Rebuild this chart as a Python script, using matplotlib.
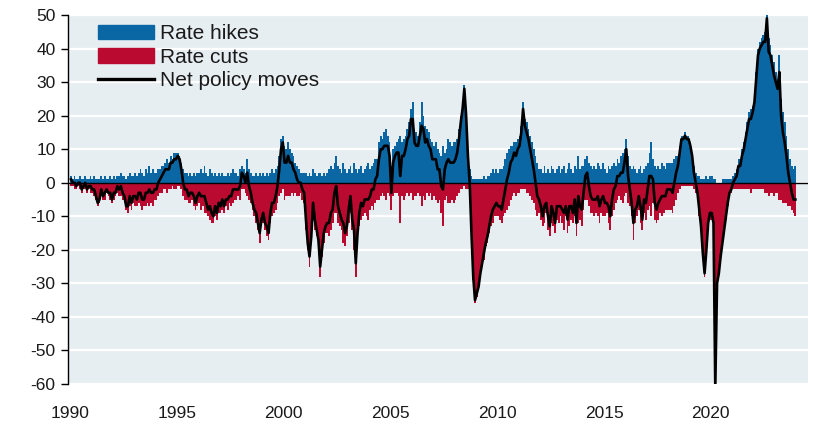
import numpy as np
import matplotlib.pyplot as plt
from matplotlib.patches import Patch
from matplotlib.lines import Line2D

# monthly counts of policy moves, one row per year starting 1990
start_year = 1990
hikes = [
    [2, 1, 2, 1, 1, 2, 1, 1, 2, 1, 1, 2],          # 1990
    [1, 2, 1, 1, 1, 2, 1, 2, 1, 1, 2, 1],
    [2, 1, 2, 2, 3, 2, 2, 1, 2, 3, 2, 2],
    [3, 2, 3, 4, 3, 2, 4, 3, 5, 3, 4, 3],
    [3, 4, 4, 5, 5, 6, 7, 6, 8, 7, 9, 9],
    [9, 8, 6, 4, 3, 3, 2, 3, 2, 3, 2, 3],          # 1995
    [3, 4, 3, 5, 3, 2, 4, 3, 2, 3, 2, 3],
    [2, 3, 2, 2, 3, 2, 3, 4, 3, 3, 2, 4],
    [5, 4, 3, 7, 4, 3, 2, 2, 3, 2, 3, 2],
    [3, 2, 3, 2, 3, 4, 3, 4, 5, 8, 13, 14],
    [11, 10, 12, 10, 9, 8, 6, 5, 4, 3, 3, 3],      # 2000
    [3, 2, 3, 2, 4, 3, 2, 3, 3, 2, 3, 2],
    [3, 4, 5, 4, 6, 8, 5, 4, 3, 6, 4, 3],
    [4, 5, 3, 6, 4, 3, 4, 5, 3, 4, 5, 6],
    [4, 5, 6, 7, 7, 12, 14, 13, 15, 16, 14, 12],
    [5, 10, 11, 12, 13, 14, 12, 13, 14, 16, 18, 22],  # 2005
    [24, 16, 15, 14, 18, 24, 20, 17, 16, 15, 13, 12],
    [11, 12, 10, 9, 8, 11, 9, 10, 13, 12, 11, 12],
    [12, 13, 16, 20, 24, 29, 22, 10, 4, 2, 1, 1],
    [1, 1, 1, 1, 2, 1, 2, 2, 3, 4, 3, 4],
    [3, 4, 4, 5, 7, 9, 10, 11, 11, 12, 12, 13],    # 2010
    [14, 17, 24, 19, 18, 16, 14, 12, 10, 8, 6, 4],
    [4, 3, 5, 3, 4, 3, 5, 4, 3, 4, 5, 3],
    [4, 5, 3, 4, 6, 4, 3, 5, 4, 8, 4, 5],
    [5, 7, 8, 6, 5, 4, 5, 4, 6, 5, 4, 6],
    [4, 3, 5, 4, 5, 6, 5, 7, 6, 8, 9, 10],         # 2015
    [13, 8, 5, 4, 5, 4, 3, 4, 5, 3, 4, 5],
    [6, 9, 12, 7, 5, 4, 5, 4, 6, 5, 4, 6],
    [6, 6, 6, 7, 8, 8, 11, 14, 14, 15, 14, 14],
    [12, 9, 5, 3, 2, 2, 1, 1, 1, 2, 1, 2],
    [2, 1, 1, 0, 0, 0, 1, 1, 1, 1, 1, 1],          # 2020
    [2, 3, 4, 7, 7, 10, 12, 15, 18, 21, 22, 23],
    [26, 33, 40, 42, 43, 44, 45, 52, 43, 41, 38, 36],
    [33, 31, 38, 25, 21, 18, 14, 10, 7, 5, 4, 5],
]
cuts = [
    [1, 1, 2, 2, 1, 2, 3, 2, 2, 3, 2, 3],          # 1990
    [3, 4, 5, 7, 6, 4, 5, 5, 3, 4, 5, 6],
    [5, 4, 3, 4, 4, 5, 6, 8, 9, 7, 8, 6],
    [7, 7, 6, 7, 8, 7, 7, 6, 7, 6, 7, 5],
    [5, 4, 3, 3, 2, 2, 3, 2, 2, 1, 2, 2],
    [1, 1, 2, 4, 5, 5, 6, 6, 5, 7, 8, 7],          # 1995
    [6, 8, 7, 9, 9, 10, 11, 12, 12, 10, 11, 9],
    [9, 8, 9, 7, 8, 6, 7, 6, 5, 5, 4, 5],
    [2, 2, 3, 4, 5, 6, 8, 10, 12, 14, 18, 13],
    [12, 14, 16, 17, 12, 10, 9, 8, 6, 4, 3, 2],
    [5, 4, 4, 4, 3, 4, 3, 4, 4, 3, 5, 6],          # 2000
    [14, 20, 25, 18, 10, 14, 16, 20, 28, 22, 18, 15],
    [15, 16, 14, 12, 9, 9, 12, 13, 14, 18, 19, 16],
    [12, 9, 14, 20, 28, 18, 13, 11, 10, 9, 10, 11],
    [8, 7, 8, 6, 5, 5, 4, 3, 4, 5, 3, 4],
    [8, 4, 3, 3, 4, 12, 4, 5, 4, 3, 4, 3],         # 2005
    [5, 4, 4, 3, 4, 7, 4, 5, 3, 4, 3, 5],
    [4, 5, 6, 5, 9, 13, 5, 4, 6, 6, 5, 6],
    [5, 4, 3, 2, 2, 1, 2, 2, 4, 17, 29, 36],
    [34, 32, 28, 25, 23, 19, 18, 15, 13, 12, 10, 10],
    [10, 11, 12, 10, 9, 8, 7, 5, 4, 3, 4, 3],      # 2010
    [3, 2, 2, 2, 3, 3, 4, 5, 6, 8, 10, 9],
    [11, 13, 12, 9, 14, 16, 12, 13, 15, 11, 12, 10],
    [12, 14, 10, 15, 13, 11, 12, 10, 16, 12, 11, 13],
    [8, 5, 5, 7, 9, 9, 10, 9, 10, 12, 9, 10],
    [10, 9, 12, 14, 10, 8, 6, 5, 4, 5, 6, 4],      # 2015
    [3, 6, 7, 10, 17, 12, 10, 8, 12, 14, 9, 11],
    [8, 7, 10, 6, 11, 12, 11, 9, 10, 9, 8, 8],
    [8, 8, 9, 7, 5, 3, 2, 1, 1, 1, 1, 1],
    [1, 1, 2, 3, 5, 10, 14, 22, 28, 22, 13, 11],
    [11, 13, 62, 30, 27, 22, 19, 15, 11, 7, 4, 3],  # 2020
    [2, 2, 2, 2, 2, 2, 2, 2, 2, 2, 3, 2],
    [2, 2, 2, 2, 2, 2, 3, 3, 4, 3, 3, 4],
    [3, 3, 5, 5, 6, 6, 6, 7, 7, 8, 9, 10],
]
x_ticks = [1990, 1995, 2000, 2005, 2010, 2015, 2020]
y_ticks = [-60, -50, -40, -30, -20, -10, 0, 10, 20, 30, 40, 50]
labels = ['Rate hikes', 'Rate cuts', 'Net policy moves']

blue = '#0a67a3'
red = '#bb0a30'
txt = '#1a1a1a'

hike_vals = np.array(hikes, dtype=float).ravel()
cut_vals = -np.array(cuts, dtype=float).ravel()
net_vals = hike_vals + cut_vals
dates = start_year + (np.arange(len(hike_vals)) + 0.5) / 12

plt.rcParams['font.family'] = ['Liberation Sans', 'DejaVu Sans']
plt.rcParams['axes.unicode_minus'] = False
fig = plt.figure(figsize=(8.14, 4.26), dpi=100)
ax = fig.add_axes([68 / 814, 1 - 384 / 426, 740 / 814, 369 / 426])
ax.set_facecolor('#e7eef2')

ax.bar(dates, hike_vals, width=1 / 12, color=blue, linewidth=0, zorder=2)
ax.bar(dates, cut_vals, width=1 / 12, color=red, linewidth=0, zorder=2)
ax.axhline(0, color='black', lw=1, zorder=3)
ax.plot(dates, net_vals, color='black', lw=1.9, zorder=4)

ax.set_xlim(1989.9, 2024.55)
ax.set_ylim(-60, 50)
ax.set_yticks(y_ticks)
ax.set_xticks(x_ticks)
ax.yaxis.grid(True, color='white', lw=1.6, zorder=0)
ax.set_axisbelow(True)

for s in ['top', 'right', 'bottom']:
    ax.spines[s].set_visible(False)
ax.spines['left'].set_color('black')
ax.spines['left'].set_linewidth(1)
ax.tick_params(axis='y', length=5, width=1, pad=4, labelsize=12.5, labelcolor=txt)
ax.tick_params(axis='x', length=0, pad=16, labelsize=12.5, labelcolor=txt)

handles = [Patch(color=blue), Patch(color=red), Line2D([], [], color='black', lw=2.4)]
ax.legend(handles, labels, loc='upper left', bbox_to_anchor=(0.04, 0.975),
          frameon=False, fontsize=15, handlelength=2.7, handleheight=0.7,
          handletextpad=0.28, labelspacing=0.22, borderaxespad=0, borderpad=0,
          labelcolor=txt)

fig.savefig('out.png', dpi=100)
